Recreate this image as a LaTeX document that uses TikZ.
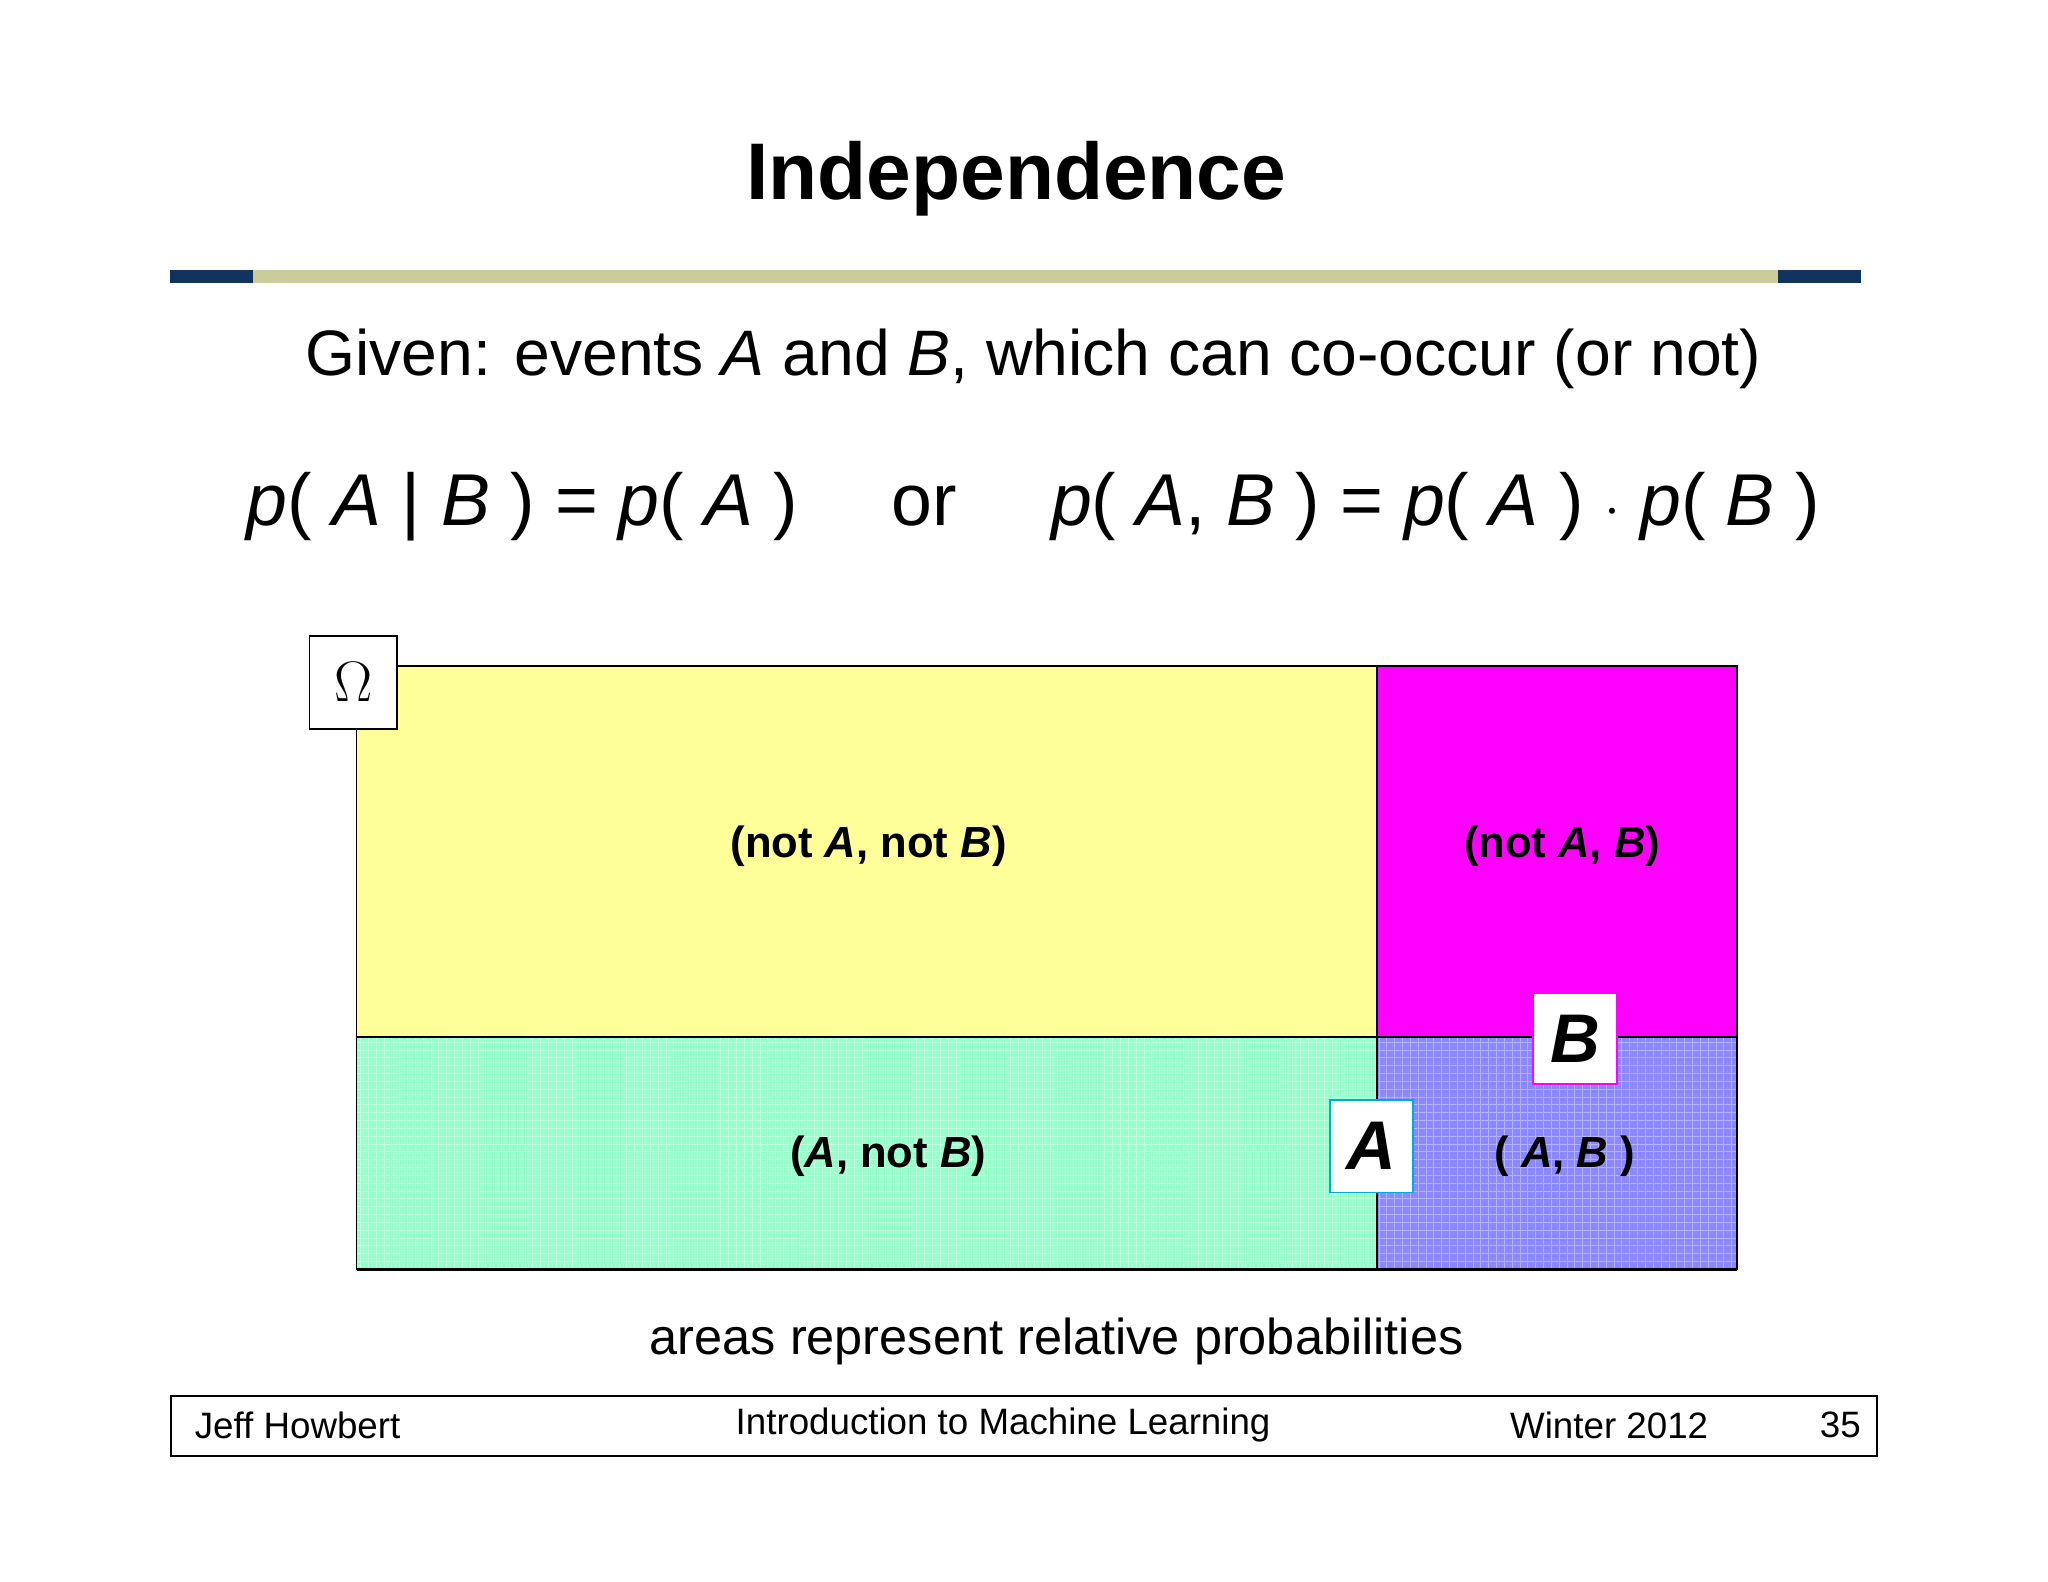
\documentclass[tikz,border=0pt]{standalone}
\usepackage{fontspec}
\setmainfont{Liberation Sans}
\definecolor{navy}{RGB}{16,52,96}
\definecolor{khaki}{RGB}{204,204,153}
\definecolor{yel}{RGB}{255,255,153}
\definecolor{mag}{RGB}{255,0,255}
\definecolor{grn}{RGB}{153,255,204}
\definecolor{pur}{RGB}{140,136,255}
\definecolor{cyn}{RGB}{0,170,220}
\begin{document}
\begin{tikzpicture}[x=0.02cm,y=-0.02cm,
  lbl/.style={font=\fontsize{19}{22}\selectfont\bfseries},
  tag/.style={draw,fill=white,line width=0.8pt,minimum width=64\pgflinewidth,inner sep=0pt},
  foot/.style={font=\fontsize{16}{18}\selectfont}]
\useasboundingbox (0,0) rectangle (1568,1211);
\node[font=\fontsize{35}{40}\selectfont\bfseries] (title) at (778,137) {Independence};
\fill[khaki] (194,207) rectangle (1361,217);
\fill[navy] (130,207) rectangle (194,217);
\fill[navy] (1361,207) rectangle (1425,217);
\node[font=\fontsize{28}{32}\selectfont] (given) at (791,275) {Given: events \emph{A} and \emph{B}, which can co-occur (or not)};
\node[font=\fontsize{32}{36}\selectfont] (eq) at (791,388) {\emph{p}( \emph{A} | \emph{B} ) = \emph{p}( \emph{A} )\quad\ or\quad\ \emph{p}( \emph{A}, \emph{B} ) = \emph{p}( \emph{A} ) $\cdot$ \emph{p}( \emph{B} )};
% regions
\fill[yel] (273,510) rectangle (1054,794);
\fill[mag] (1054,510) rectangle (1330,794);
\fill[grn] (273,794) rectangle (1054,972);
\fill[pur] (1054,794) rectangle (1330,972);
\begin{scope}
\clip (273,794) rectangle (1054,972);
\draw[white,opacity=0.35,line width=0.3pt,step=0.12cm] (273,794) grid (1054,972);
\end{scope}
\begin{scope}
\clip (1054,794) rectangle (1330,972);
\draw[white,opacity=0.35,line width=0.3pt,step=0.12cm] (1054,794) grid (1330,972);
\end{scope}
\draw[line width=0.8pt] (273,510) rectangle (1330,972);
\draw[line width=0.8pt] (1054,510) -- (1054,972);
\draw[line width=0.8pt] (273,794) -- (1330,794);
\draw[line width=1.4pt] (273,972) -- (1330,972);
\node[lbl] (nanb) at (665,648) {(not \emph{A}, not \emph{B})};
\node[lbl] (nab) at (1196,648) {(not \emph{A}, \emph{B})};
\node[lbl] (anb) at (680,885) {(\emph{A}, not \emph{B})};
\node[lbl] (ab) at (1198,885) {( \emph{A}, \emph{B} )};
\node[draw,fill=white,line width=0.8pt,minimum width=67*0.02cm,minimum height=71*0.02cm,font=\fontsize{26}{28}\selectfont] (om) at (270.5,522.5) {$\Omega$};
\node[draw=mag,fill=white,line width=0.8pt,minimum width=64*0.02cm,minimum height=70*0.02cm,font=\fontsize{30}{32}\selectfont\bfseries\itshape] (bb) at (1206,795) {B};
\node[draw=cyn,fill=white,line width=0.8pt,minimum width=64*0.02cm,minimum height=71*0.02cm,font=\fontsize{30}{32}\selectfont\bfseries\itshape] (ab2) at (1050,877.5) {A};
\node[font=\fontsize{22}{26}\selectfont] (areas) at (809,1027) {areas represent relative probabilities};
\draw[line width=0.8pt] (131,1069) rectangle (1437,1115);
\node[foot,anchor=west] (f1) at (143,1091) {Jeff Howbert};
\node[foot] (f2) at (768,1091) {Introduction to Machine Learning};
\node[foot] (f3) at (1232,1091) {Winter 2012};
\node[foot] (f4) at (1409,1091) {35};
\end{tikzpicture}
\end{document}
